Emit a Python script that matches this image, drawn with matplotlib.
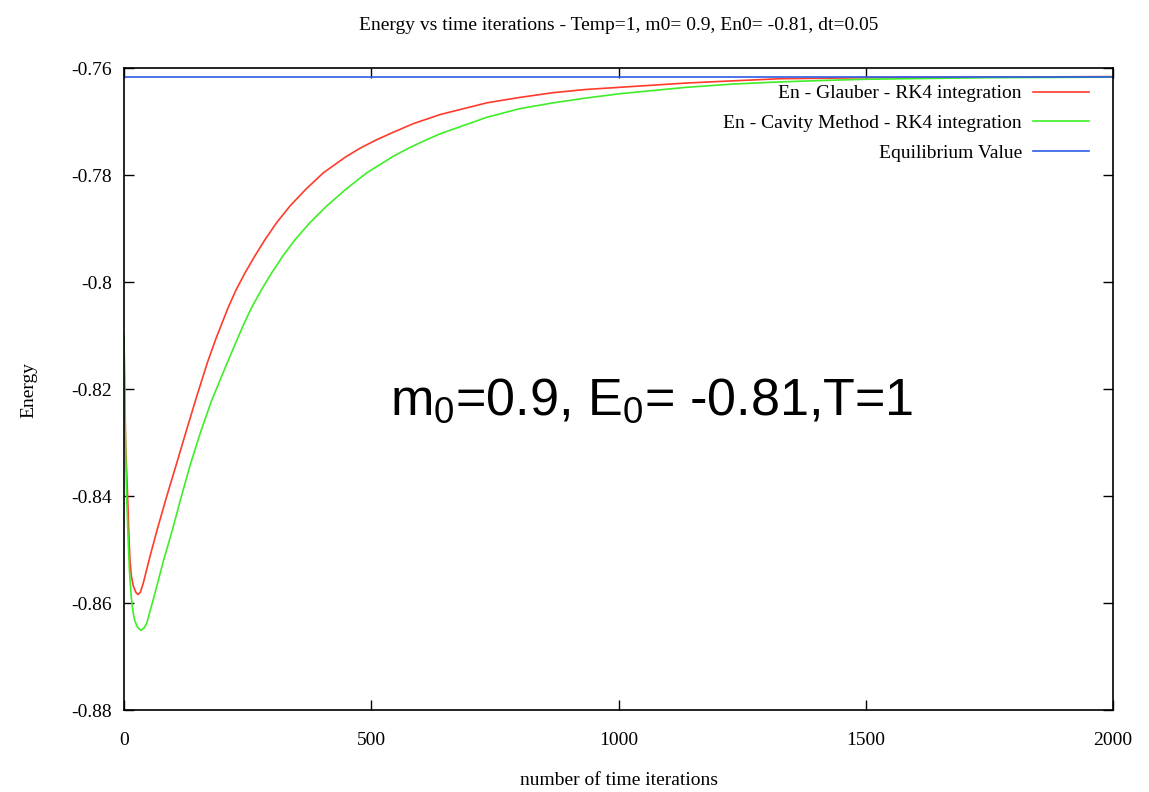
import matplotlib
matplotlib.use("Agg")
import matplotlib.pyplot as plt

# energy curves (time iterations vs energy)
glauber_t = [0, 1.5, 3.5, 7.4, 10, 12.1, 15, 18.9, 24, 28.3, 33, 39, 46, 54, 67.4,
             86.3, 106.5, 126.7, 147, 168.5, 185.4, 211, 226.5, 244.7, 263.5, 285,
             308.7, 335.6, 367.3, 403, 446.9, 477, 511, 544.6, 585, 639, 734, 800,
             868, 935, 1003, 1070, 1138, 1230, 1326, 1420, 1500, 1750, 2000]
glauber_e = [-0.8100, -0.8200, -0.8310, -0.8401, -0.8475, -0.8520, -0.8550, -0.8568,
             -0.8580, -0.8584, -0.8580, -0.8563, -0.8537, -0.8508, -0.8462, -0.8401,
             -0.8339, -0.8276, -0.8214, -0.8151, -0.8107, -0.8047, -0.8015, -0.7983,
             -0.7953, -0.7921, -0.7889, -0.7858, -0.7827, -0.7796, -0.7767, -0.7750,
             -0.7734, -0.7720, -0.7704, -0.7687, -0.7665, -0.7655, -0.7646, -0.7640,
             -0.7636, -0.7632, -0.7628, -0.7624, -0.7620, -0.7619, -0.7618, -0.7617,
             -0.7616]

cavity_t = [0, 1.5, 3, 5.4, 8, 11, 14.8, 18.2, 21.5, 26, 30, 35.2, 41, 46, 50.6, 62,
            79.5, 97.7, 116, 134.8, 155.1, 177, 205.6, 229, 242.6, 258, 277, 298.6,
            320.8, 345.8, 376, 409.8, 448.2, 490.7, 544.6, 577, 612, 639, 734, 800,
            868, 935, 1003, 1070, 1138, 1230, 1326, 1420, 1500, 1750, 2000]
cavity_e = [-0.8100, -0.8210, -0.8300, -0.8400, -0.8470, -0.8540, -0.8590, -0.8615,
            -0.8632, -0.8643, -0.8648, -0.8651, -0.8646, -0.8638, -0.8622, -0.8584,
            -0.8522, -0.8464, -0.8401, -0.8339, -0.8280, -0.8222, -0.8158, -0.8107,
            -0.8078, -0.8048, -0.8016, -0.7983, -0.7952, -0.7921, -0.7889, -0.7858,
            -0.7827, -0.7796, -0.7765, -0.7749, -0.7734, -0.7723, -0.7692, -0.7676,
            -0.7665, -0.7656, -0.7648, -0.7642, -0.7636, -0.7630, -0.7626, -0.7623,
            -0.7621, -0.7618, -0.7617]

equilibrium = -0.7616

x_ticks = [0, 500, 1000, 1500, 2000]
y_ticks = [-0.88, -0.86, -0.84, -0.82, -0.80, -0.78, -0.76]
y_tick_labels = ["-0.88", "-0.86", "-0.84", "-0.82", "-0.8", "-0.78", "-0.76"]

plt.rcParams["font.family"] = ["Liberation Serif", "DejaVu Serif"]
plt.rcParams["mathtext.fontset"] = "custom"
plt.rcParams["mathtext.rm"] = "Liberation Sans"
plt.rcParams["mathtext.it"] = "Liberation Sans"

fig = plt.figure(figsize=(11.49, 7.92), dpi=100)
ax = fig.add_axes([0.1079, 0.1035, 0.8608, 0.8106])

ax.plot(glauber_t, glauber_e, color="#ff3b2b", lw=1.2,
        label="En - Glauber - RK4 integration")
ax.plot(cavity_t, cavity_e, color="#3fee28", lw=1.2,
        label="En - Cavity Method - RK4 integration")
ax.axhline(equilibrium, color="#2b5ce6", lw=1.2, label="Equilibrium Value")

ax.set_xlim(0, 2000)
ax.set_ylim(-0.88, -0.76)
ax.set_xticks(x_ticks)
ax.set_xticklabels([str(v) for v in x_ticks])
ax.set_yticks(y_ticks)
ax.set_yticklabels(y_tick_labels)
ax.tick_params(direction="in", length=7, width=1, top=True, right=True,
               labelsize=14, colors="black")
ax.tick_params(axis="x", pad=16)
ax.tick_params(axis="y", pad=8.5)
for s in ax.spines.values():
    s.set_linewidth(1.2)

fig.text(0.5383, 1 - 25 / 792,
         "Energy vs time iterations - Temp=1, m0= 0.9, En0= -0.81, dt=0.05",
         fontsize=14, ha="center", va="center")
ax.set_xlabel("number of time iterations", fontsize=14)
ax.xaxis.set_label_coords(0.5, -0.097)
ax.set_ylabel("Energy", fontsize=14)
ax.yaxis.set_label_coords(-0.088, 0.498)

ax.text(1066, -0.8224, r"m$_0$=0.9, E$_0$= -0.81,T=1", fontsize=37.5,
        family="Liberation Sans", ha="center", va="center")

ax.legend(loc="upper right", frameon=False, markerfirst=False, fontsize=14,
          handlelength=2.9, handletextpad=0.57, labelspacing=0.62,
          bbox_to_anchor=(0.9838, 0.986), borderaxespad=0)

fig.savefig("out.png", dpi=100)
